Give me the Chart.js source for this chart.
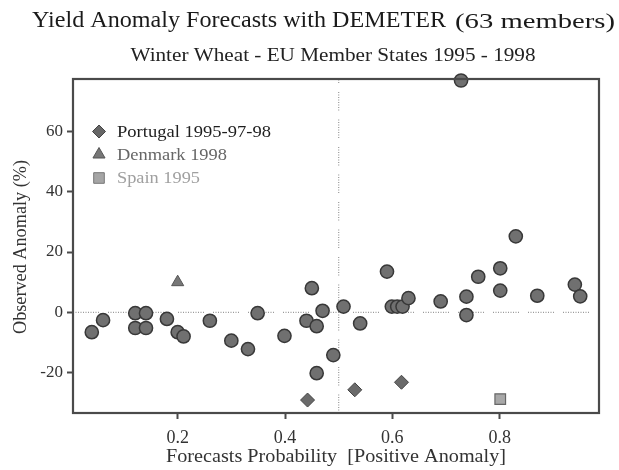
<!DOCTYPE html>
<html>
<head>
<meta charset="utf-8">
<script src="https://cdn.jsdelivr.net/npm/chart.js@4.4.0/dist/chart.umd.min.js"></script>
<style>
  html, body { margin: 0; padding: 0; background: #fff; }
  #wrap { width: 619px; height: 470px; position: relative; }
</style>
</head>
<body>
<div id="wrap"><canvas id="c" width="619" height="470"></canvas></div>
<script>
// ---- Data ----
const titleMain = "Yield Anomaly Forecasts with DEMETER";
const titleSuffix = "(63 members)";
const subtitle = "Winter Wheat - EU Member States 1995 - 1998";
const xAxisTitle = "Forecasts Probability  [Positive Anomaly]";
const yAxisTitle = "Observed Anomaly (%)";

const xTickValues = [0.2, 0.4, 0.6, 0.8];
const yTickValues = [-20, 0, 20, 40, 60];

// All EU member states / years (circles)
const allX = [0.040, 0.061, 0.121, 0.141, 0.121, 0.141, 0.180, 0.200, 0.211, 0.260,
              0.300, 0.331, 0.349, 0.399, 0.440, 0.450, 0.459, 0.470, 0.459, 0.490,
              0.509, 0.540, 0.590, 0.599, 0.609, 0.619, 0.630, 0.690, 0.728, 0.738,
              0.738, 0.760, 0.801, 0.801, 0.830, 0.870, 0.940, 0.950];
const allY = [-6.6, -2.6, -0.3, -0.3, -5.2, -5.2, -2.2, -6.6, -8.0, -2.8,
              -9.4, -12.2, -0.3, -7.8, -2.8, 8.0, -4.6, 0.5, -20.2, -14.2,
              1.9, -3.7, 13.5, 1.9, 1.9, 1.9, 4.7, 3.6, 76.9, 5.2,
              -0.9, 11.8, 14.6, 7.2, 25.2, 5.5, 9.2, 5.3];

const portugalLabel = "Portugal 1995-97-98";
const portugalX = [0.442, 0.530, 0.617];
const portugalY = [-29.1, -25.7, -23.2];

const denmarkLabel = "Denmark 1998";
const denmarkX = [0.200];
const denmarkY = [10.0];

const spainLabel = "Spain 1995";
const spainX = [0.801];
const spainY = [-28.8];

const xMin = 0.005, xMax = 0.985;
const yMin = -33.4, yMax = 77.4;
const refX = 0.5, refY = 0;

// ---- Build chart ----
const pts = (xs, ys) => xs.map((x, i) => ({x: x, y: ys[i]}));
const SERIF = "'Liberation Serif', 'DejaVu Serif', serif";

// draw text horizontally stretched to a target width
function fitText(ctx, text, x, y, size, targetW, align) {
  ctx.font = size + "px " + SERIF;
  const w = ctx.measureText(text).width;
  const sx = targetW / w;
  ctx.save();
  ctx.translate(x, y);
  ctx.scale(sx, 1);
  ctx.textAlign = align || 'left';
  ctx.fillText(text, 0, 0);
  ctx.restore();
}

const frameAndText = {
  id: 'frameAndText',
  afterDatasetsDraw(chart) {
    const ctx = chart.ctx;
    const a = chart.chartArea;
    ctx.save();
    // frame
    ctx.strokeStyle = '#4a4a4a';
    ctx.lineWidth = 2.2;
    ctx.strokeRect(a.left, a.top, a.right - a.left, a.bottom - a.top);

    ctx.textBaseline = 'middle';
    // titles
    ctx.fillStyle = '#1a1a1a';
    fitText(ctx, titleMain, 32, 21, 24, 414, 'left');
    fitText(ctx, titleSuffix, 455, 22, 22, 160, 'left');

    ctx.fillStyle = '#222';
    fitText(ctx, subtitle, 333, 56, 19, 405, 'center');

    // x axis title
    ctx.fillStyle = '#333';
    fitText(ctx, xAxisTitle, 336, 457, 19, 340, 'center');

    // y axis title
    ctx.save();
    ctx.translate(21, 247);
    ctx.rotate(-Math.PI / 2);
    fitText(ctx, yAxisTitle, 0, 0, 18, 174, 'center');
    ctx.restore();

    // legend
    const items = [
      {label: portugalLabel, style: 'rectRot', r: 6.5, fill: '#666', stroke: '#444', text: '#1e1e1e', y: 131.5, w: 154},
      {label: denmarkLabel, style: 'triangle', r: 7, fill: '#777', stroke: '#555', text: '#666', y: 154.5, w: 110},
      {label: spainLabel, style: 'rect', r: 7.5, fill: '#a5a5a5', stroke: '#777', text: '#a0a0a0', y: 178, w: 83}
    ];
    items.forEach(it => {
      ctx.fillStyle = it.fill;
      ctx.strokeStyle = it.stroke;
      ctx.lineWidth = 1;
      Chart.helpers.drawPoint(ctx, {pointStyle: it.style, radius: it.r, borderWidth: 1, rotation: 0}, 99, it.y);
      ctx.fillStyle = it.text;
      fitText(ctx, it.label, 117, it.y + 1, 17, it.w, 'left');
    });
    ctx.restore();
  }
};

const circleStyle = {
  pointStyle: 'circle', pointRadius: 6.6, pointBackgroundColor: '#707070',
  pointBorderColor: '#383838', pointBorderWidth: 1.5, showLine: false, clip: false
};

new Chart(document.getElementById('c'), {
  type: 'scatter',
  data: {
    datasets: [
      {
        label: 'ref-x', type: 'line',
        data: [{x: refX, y: yMin}, {x: refX, y: yMax}],
        borderColor: '#9a9a9a', borderWidth: 1.2,
        borderDash: [1,1.5,1,1.5,1,1.5,1,1.5,1,1.5,1,1.5,1,1.5,1,9],
        pointRadius: 0, fill: false, order: 10
      },
      {
        label: 'ref-y', type: 'line',
        data: [{x: xMin, y: refY}, {x: xMax, y: refY}],
        borderColor: '#9a9a9a', borderWidth: 1.2,
        borderDash: [1,1.5,1,1.5,1,1.5,1,1.5,1,1.5,1,1.5,1,1.5,1,1.5,1,1.5,1,1.5,1,9],
        pointRadius: 0, fill: false, order: 10
      },
      Object.assign({label: 'All', data: pts(allX, allY), order: 1}, circleStyle),
      {
        label: portugalLabel, data: pts(portugalX, portugalY), pointStyle: 'rectRot',
        pointRadius: 7, pointBackgroundColor: '#6a6a6a', pointBorderColor: '#444',
        pointBorderWidth: 1, clip: false, order: 0
      },
      {
        label: denmarkLabel, data: pts(denmarkX, denmarkY), pointStyle: 'triangle',
        pointRadius: 7, pointBackgroundColor: '#777', pointBorderColor: '#555',
        pointBorderWidth: 1, clip: false, order: 0
      },
      {
        label: spainLabel, data: pts(spainX, spainY), pointStyle: 'rect',
        pointRadius: 7.5, pointBackgroundColor: '#a8a8a8', pointBorderColor: '#666',
        pointBorderWidth: 1.2, clip: false, order: 0
      }
    ]
  },
  options: {
    responsive: false,
    animation: false,
    devicePixelRatio: 1,
    layout: { padding: { left: 0, right: 20, top: 79, bottom: 0 } },
    plugins: {
      legend: { display: false },
      title: { display: false },
      tooltip: { enabled: false }
    },
    scales: {
      x: {
        type: 'linear', min: xMin, max: xMax,
        afterBuildTicks: s => { s.ticks = xTickValues.map(v => ({value: v})); },
        afterFit: s => { s.height = 57; },
        grid: { drawOnChartArea: false, drawTicks: true, tickLength: 6, tickColor: '#4a4a4a', tickWidth: 2 },
        border: { display: false },
        ticks: { color: '#333', font: { family: SERIF, size: 18 }, padding: 8, maxRotation: 0,
                 callback: v => String(v) }
      },
      y: {
        type: 'linear', min: yMin, max: yMax,
        afterBuildTicks: s => { s.ticks = yTickValues.map(v => ({value: v})); },
        afterFit: s => { s.width = 73; },
        grid: { drawOnChartArea: false, drawTicks: true, tickLength: 6, tickColor: '#4a4a4a', tickWidth: 2 },
        border: { display: false },
        ticks: { color: '#333', font: { family: SERIF, size: 17 }, padding: 4,
                 callback: v => String(v) }
      }
    }
  },
  plugins: [frameAndText]
});
</script>
</body>
</html>
